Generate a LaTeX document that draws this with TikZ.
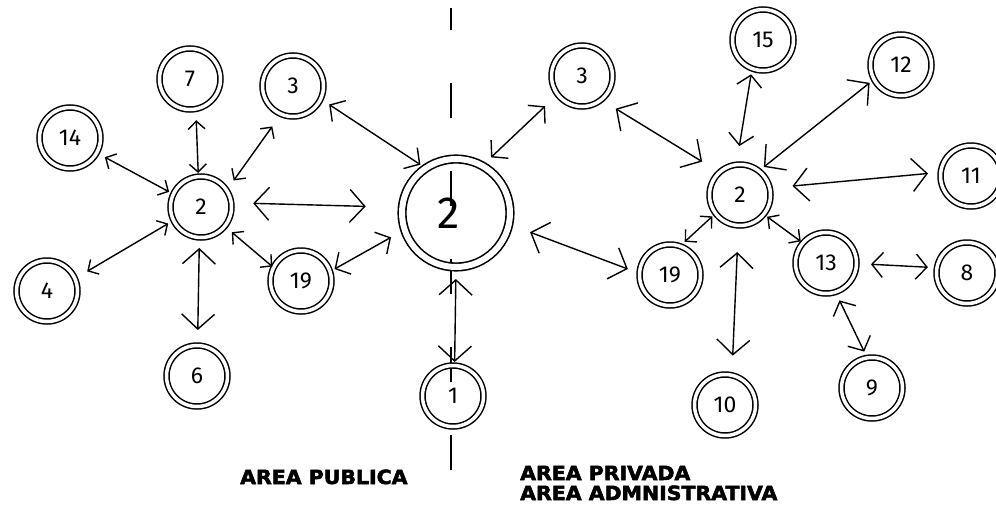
\documentclass[tikz,border=0pt]{standalone}
\usepackage{fontspec}
\usetikzlibrary{arrows.meta}
\IfFontExistsTF{FiraSans-Light.otf}
	{\newfontfamily\handfont{FiraSans-Light.otf}}
	{\newfontfamily\handfont{Fira Sans}}
\newfontfamily\areafont{DejaVu Sans}[UprightFont={* Bold}, FakeBold=2.5]

\begin{document}
\begin{tikzpicture}[x=1pt, y=-1pt,
	room/.style={circle, draw, double, line width=1.5pt, double distance=3.5pt,
		minimum size=61pt, inner sep=0pt, outer sep=0pt,
		font=\handfont\fontsize{23}{23}\selectfont},
	hall/.style={room, minimum size=108pt, line width=1.6pt, double distance=6pt,
		font=\handfont\fontsize{45}{45}\selectfont},
	arrS/.style={<->, >={Straight Barb[length=8pt, width=17pt]}, line width=1.4pt},
	arrM/.style={<->, >={Straight Barb[length=11pt, width=25pt]}, line width=1.4pt},
	arrL/.style={<->, >={Straight Barb[length=15pt, width=33pt]}, line width=1.4pt},
	zone/.style={anchor=base west, inner sep=0pt,
		font=\areafont\fontsize{19.5}{20}\selectfont}]
	\useasboundingbox (0,0) rectangle (996,509);
	\fill[white] (0,0) rectangle (996,509);
	% divider
	\coordinate (divtop) at (451,8);
	\coordinate (divbot) at (451,472);
	\draw[line width=2pt, dash pattern=on 35pt off 53pt, dash phase=13pt] (divtop) -- (divbot);
	% public side
	\node[room] (n7) at (190,79) {7};
	\node[room] (n3L) at (293,86) {3};
	\node[room] (n14) at (70,138) {14};
	\node[room] (n2L) at (201,207) {2};
	\node[room] (n4) at (47,291) {4};
	\node[room] (n19L) at (301,281) {19};
	\node[room] (n6) at (197,376) {6};
	\node[hall] (nBig) at (456,213) {\hspace*{-14pt}2};
	\node[room] (n1) at (453,396) {1};
	% private side
	\node[room] (n3R) at (582,76) {3};
	\node[room] (n15) at (763,40) {15};
	\node[room] (n12) at (901,65) {12};
	\node[room] (n11) at (971,176) {11};
	\node[room] (n2R) at (740,195) {2};
	\node[room] (n19R) at (670,275) {19};
	\node[room] (n13) at (826,263) {13};
	\node[room] (n8) at (967,273) {8};
	\node[room] (n9) at (872,388) {9};
	\node[room] (n10) at (725,405) {10};
	% links
	\draw[arrS, shorten <=11.3pt, shorten >=3.6pt] (n7.-79) -- (n2L.95);
	\draw[arrS, shorten <=9.3pt, shorten >=4.8pt] (n14.-29) -- (n2L.155);
	\draw[arrS, shorten <=15.2pt, shorten >=12.2pt] (n3L.247) -- (n2L.33);
	\draw[arrL, shorten <=22pt, shorten >=36.6pt] (n2L.8) -- (nBig.174);
	\draw[arrS, shorten <=14.3pt, shorten >=6.2pt] (n4.24) -- (n2L.206);
	\draw[arrL, shorten <=15.5pt, shorten >=10.5pt] (n6.89) -- (n2L.-93);
	\draw[arrS, shorten <=1.7pt, shorten >=9.3pt] (n19L.154) -- (n2L.-39);
	\draw[arrM, shorten <=10.2pt, shorten >=6.5pt] (n3L.-25) -- (nBig.124);
	\draw[arrM, shorten <=5.2pt, shorten >=15.6pt] (n19L.18) -- (nBig.198);
	\draw[arrL, shorten <=12pt, shorten >=3.6pt] (nBig.-90) -- (n1.87);
	\draw[arrM, shorten <=17.3pt, shorten >=12.2pt] (n3R.217) -- (nBig.61);
	\draw[arrL, shorten <=22.7pt, shorten >=12.5pt] (nBig.-12) -- (n19R.177);
	\draw[arrL, shorten <=17.1pt, shorten >=20.5pt] (n3R.-51) -- (n2R.132);
	\draw[arrM, shorten <=5.9pt, shorten >=18.9pt] (n15.-111) -- (n2R.97);
	\draw[arrL, shorten <=5.7pt, shorten >=6.5pt] (n12.-152) -- (n2R.52);
	\draw[arrL, shorten <=12.8pt, shorten >=22.9pt] (n11.173) -- (n2R.13);
	\draw[arrS, shorten <=4.5pt, shorten >=6.5pt] (n2R.-143) -- (n19R.71);
	\draw[arrS, shorten <=4.3pt, shorten >=2.8pt] (n2R.-39) -- (n13.139);
	\draw[arrL, shorten <=26.6pt, shorten >=19.7pt] (n2R.-93) -- (n10.77);
	\draw[arrM, shorten <=14.5pt, shorten >=9.1pt] (n13.-1) -- (n8.170);
	\draw[arrM, shorten <=9.3pt, shorten >=7pt] (n13.-72) -- (n9.99);
	% zones
	\node[zone] (publica) at (240,484) {\scalebox{1.05}[1]{AREA PUBLICA}};
	\node[zone] (privada) at (520,480) {\scalebox{1.05}[1]{AREA PRIVADA}};
	\node[zone] (admin) at (520,500) {\scalebox{1.05}[1]{AREA ADMNISTRATIVA}};
\end{tikzpicture}
\end{document}
